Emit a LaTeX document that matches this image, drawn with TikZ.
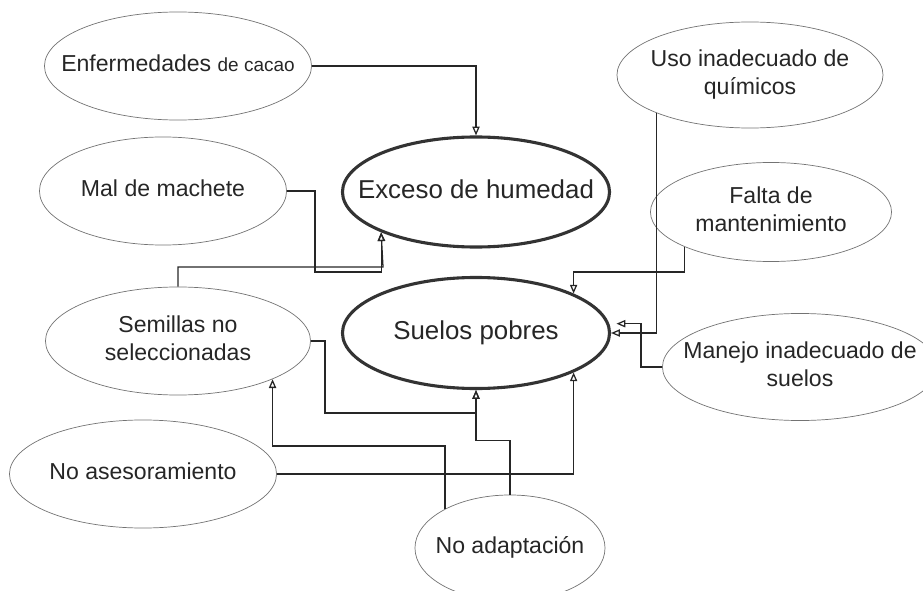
\documentclass[tikz,border=0pt]{standalone}
\usepackage{fontspec}
\setmainfont{Liberation Sans}
\usetikzlibrary{shapes.geometric,arrows.meta}
\newcommand{\ovaltext}[1]{\makebox[0pt]{\begin{tabular}{@{}c@{}}#1\end{tabular}}}

\begin{document}
\begin{tikzpicture}[x=0.025cm, y=-0.025cm, >={Triangle[open,length=2.2mm,width=1.8mm]},
		causa/.style={ellipse, draw=black!55, line width=0.5pt, text=black!85, inner sep=0pt,
			minimum width=6.675cm, minimum height=2.7cm, font=\fontsize{16.4}{19.5}\selectfont},
		efecto/.style={causa, draw=black!80, line width=2.2pt, font=\fontsize{18.4}{22}\selectfont},
		conn/.style={->, draw=black!85, line width=0.9pt}]
		\useasboundingbox (0,0) rectangle (923,591);
		% problemas centrales
		\node[efecto, minimum height=2.75cm] (exc) at (476,192) {\ovaltext{Exceso de humedad}};
		\node[efecto, minimum height=2.775cm] (suelos) at (476,333) {\ovaltext{Suelos pobres}};
		% causas
		\node[causa] (enf) at (178,66) {\ovaltext{Enfermedades {\fontsize{13.5}{16}\selectfont de cacao}}};
		\node[causa, minimum width=6.175cm] (mal) at (163,191) {\ovaltext{Mal de machete}};
		\node[causa, minimum width=6.625cm] (sem) at (178,341) {\ovaltext{Semillas no\\seleccionadas}};
		\node[causa] (noase) at (143,474) {\ovaltext{No asesoramiento}};
		\node[causa, minimum width=4.75cm, minimum height=2.65cm] (noadap) at (510,548) {\ovaltext{No adaptación}};
		\node[causa, minimum width=6.65cm, minimum height=2.65cm] (uso) at (750,75) {\ovaltext{Uso inadecuado de\\químicos}};
		\node[causa, minimum width=6.025cm, minimum height=2.475cm] (falta) at (771,212) {\ovaltext{Falta de\\mantenimiento}};
		\node[causa, minimum width=6.875cm, minimum height=2.675cm] (manejo) at (800,367) {\ovaltext{Manejo inadecuado de\\suelos}};
		% hacia exceso de humedad
		\draw[conn] (enf.east) -| (exc.north);
		\draw[conn] (mal.east) -| (315,272) -| (exc.203);
		\draw[conn] (sem.north) |- (383,267) -- (exc.203);
		% hacia suelos pobres
		\draw[conn] (sem.east) -| (325,413) -| (suelos.south);
		\draw[conn] (noadap.north) -- ++(0,-54) -| (suelos.south);
		\draw[conn] (noadap.149) -- ++(0,-63) -| (sem.-22.5);
		\draw[conn] (noase.east) -| (suelos.-22.7);
		\draw[conn] (falta.202) -- ++(0,25) -| (suelos.22.7);
		\draw[conn] (uso.202.2) |- (suelos.east);
		\draw[conn, shorten >=0.18cm] (manejo.west) -- ++(-21,0) |- (suelos.4);
	\end{tikzpicture}
\end{document}
